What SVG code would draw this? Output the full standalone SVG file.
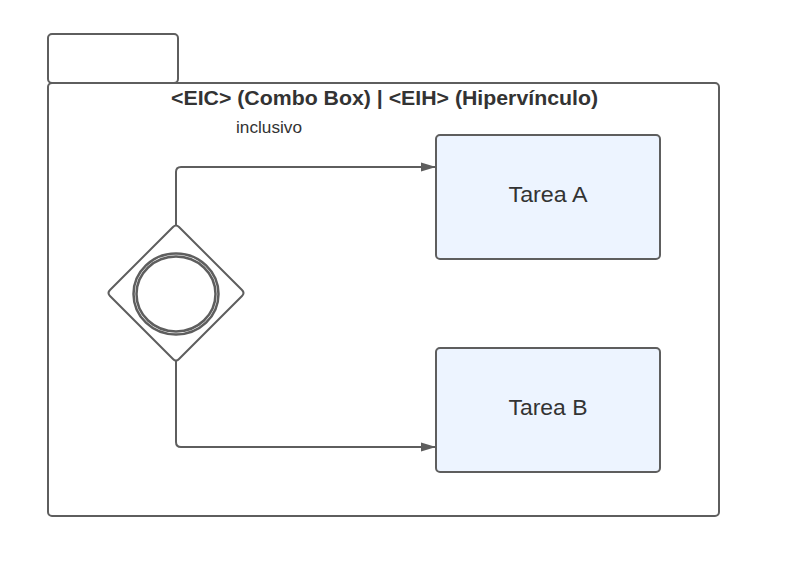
<svg xmlns="http://www.w3.org/2000/svg" width="794" height="572" viewBox="0 0 794 572">
<defs>
<style>
.ln{fill:none;stroke:#5e5e5e;stroke-width:2;stroke-linejoin:round}
.box{fill:#edf4ff;stroke:#5e5e5e;stroke-width:2}
.t{font-family:"Liberation Sans",Arial,sans-serif;fill:#333333}
</style>
<marker id="arr" markerWidth="15" markerHeight="10" refX="14" refY="5" orient="auto" markerUnits="userSpaceOnUse">
<path d="M0,0.5 L15,5 L0,9.5 Z" fill="#5e5e5e"/>
</marker>
</defs>
<rect width="794" height="572" fill="#ffffff"/>
<g id="pool">
<rect x="48" y="34" width="130" height="49" rx="4" class="ln" fill="#ffffff"/>
<rect x="48" y="83" width="671" height="433" rx="4" class="ln" fill="#ffffff"/>
<text x="171" y="105" textLength="427" lengthAdjust="spacingAndGlyphs" class="t" font-size="20" font-weight="bold">&lt;EIC&gt; (Combo Box) | &lt;EIH&gt; (Hipervínculo)</text>
<text x="236" y="133" textLength="66" lengthAdjust="spacingAndGlyphs" class="t" font-size="16">inclusivo</text>
</g>
<g id="connectors">
<path d="M176,226 V172 Q176,167 181,167 H435" class="ln" marker-end="url(#arr)"/>
<path d="M176,361 V442 Q176,447 181,447 H435" class="ln" marker-end="url(#arr)"/>
</g>
<g id="gateway">
<path d="M173,227 Q176,224 179,227 L242,290 Q245,293 242,296 L179,359 Q176,362 173,359 L110,296 Q107,293 110,290 Z" class="ln" fill="#ffffff"/>
<ellipse cx="176" cy="294" rx="42.5" ry="40.5" fill="none" stroke="#5e5e5e" stroke-width="2.5"/>
<ellipse cx="176" cy="294" rx="39.5" ry="37.5" fill="none" stroke="#5e5e5e" stroke-width="2.5"/>
</g>
<g id="tareaA">
<rect x="436" y="135" width="224" height="124" rx="4" class="box"/>
<text x="548" y="202" text-anchor="middle" textLength="79" lengthAdjust="spacingAndGlyphs" class="t" font-size="22">Tarea A</text>
</g>
<g id="tareaB">
<rect x="436" y="348" width="224" height="124" rx="4" class="box"/>
<text x="548" y="415" text-anchor="middle" textLength="79" lengthAdjust="spacingAndGlyphs" class="t" font-size="22">Tarea B</text>
</g>
</svg>
